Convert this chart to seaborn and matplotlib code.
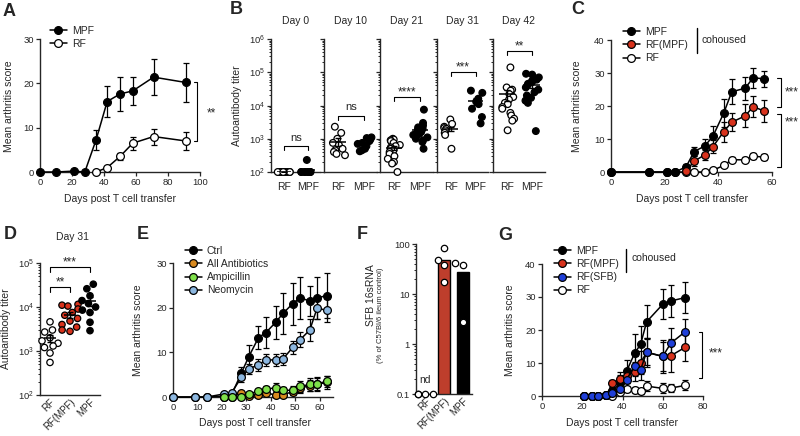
import warnings
import matplotlib
matplotlib.use("Agg")
import matplotlib.pyplot as plt
from matplotlib.lines import Line2D
from matplotlib.ticker import LogLocator, NullFormatter
import numpy as np
import pandas as pd
import seaborn as sns

warnings.filterwarnings("ignore")

# ---------------- data ----------------
# A: mean arthritis score, MPF vs RF
a_mpf_day = [0, 10, 21, 28, 35, 42, 50, 58, 71, 91]
a_mpf_score = [0, 0, 0.2, 0, 7.2, 15.9, 17.6, 18.3, 21.4, 20.2]
a_mpf_sem = [0, 0, 0, 0, 2.3, 3.5, 3.9, 3.2, 4.0, 4.3]
a_rf_day = [35, 42, 50, 58, 71, 91]
a_rf_score = [0, 1.0, 3.5, 6.5, 8.0, 7.0]
a_rf_sem = [0, 0.3, 0.7, 1.5, 1.8, 2.1]

# B: autoantibody titer over time
b_days = ["Day 0", "Day 10", "Day 21", "Day 31", "Day 42"]
b_rf = [
    [100] * 10,
    [2300, 1500, 1000, 750, 650, 500, 450, 400, 350, 320],
    [1000, 950, 900, 850, 750, 650, 600, 550, 500, 450, 400, 350, 300, 250, 200, 180, 100],
    [3800, 2800, 2300, 2100, 2000, 1800, 1500, 1300, 500],
    [140000, 35000, 30000, 28000, 22000, 18000, 15000, 12000, 11000, 9000, 8000,
     6000, 5000, 4000, 3500, 1800],
]
b_mpf = [
    [100] * 9 + [230],
    [1100, 1050, 950, 850, 750, 700, 600, 500, 450, 420],
    [7500, 3000, 2500, 2200, 2000, 1800, 1600, 1500, 1400, 1300, 1200, 1100, 1000,
     900, 800, 500],
    [28000, 24000, 16000, 13000, 11000, 8000, 4500, 2900],
    [90000, 85000, 70000, 60000, 55000, 50000, 45000, 40000, 35000, 30000, 25000,
     20000, 17000, 14000, 12000, 1700],
]
b_sig = ["ns", "ns", "****", "***", "**"]
b_sig_level = [600, 5000, 18000, 100000, 450000]

# C: cohousing
c_day = [0, 14, 21, 24, 28, 31, 35, 38, 42, 45, 50, 53, 57]
c_mpf = [0, 0, 0, 0, 1.6, 6.2, 7.9, 10.9, 17.8, 24.3, 25.4, 28.6, 28.2]
c_mpf_sem = [0, 0, 0, 0, 0.8, 1.5, 2.0, 3.0, 4.3, 3.8, 3.5, 3.0, 2.3]
c_rfmpf_day = [28, 31, 35, 38, 42, 45, 50, 53, 57]
c_rfmpf = [0.3, 3.3, 5.2, 7.7, 12.2, 15.1, 17.0, 19.8, 18.5]
c_rfmpf_sem = [0.3, 1.5, 1.5, 2.0, 3.0, 2.8, 3.5, 3.2, 3.2]
c_rf = [0, 0, 0, 0, 0, 0, 0, 0.5, 2.0, 3.7, 3.7, 4.8, 4.5]
c_rf_sem = [0, 0, 0, 0, 0, 0, 0, 0.3, 0.5, 0.8, 0.8, 1.0, 0.9]

# D: titer at day 31
d_groups = ["RF", "RF(MPF)", "MPF"]
d_rf = [4600, 3000, 2700, 2000, 1700, 1500, 1300, 1200, 900, 550]
d_rfmpf = [11500, 11000, 10500, 9000, 7500, 6500, 5500, 4800, 4000, 3500, 3000, 2800]
d_mpf = [33000, 26000, 18000, 14000, 12000, 10000, 8500, 7500, 4500, 2900]

# E: antibiotics
e_day = [0, 9, 14, 21, 24, 28, 31, 35, 38, 42, 45, 49, 52, 56, 59, 63]
e_ctrl = [0, 0, 0, 0.2, 0.5, 5.4, 9.0, 13.3, 14.4, 16.7, 18.7, 20.9, 22.2, 21.5, 22.2, 22.7]
e_ctrl_sem = [0, 0, 0, 0, 0, 1.3, 2.6, 2.6, 3.5, 3.7, 4.5, 4.7, 4.7, 3.3, 4.7, 5.1]
e_neo = [0, 0, 0, 0.7, 1.0, 4.4, 6.3, 7.2, 8.3, 8.3, 8.5, 11.1, 12.8, 15.0, 19.9, 19.4]
e_neo_sem = [0, 0, 0, 0, 0, 1.0, 1.2, 1.3, 1.3, 1.3, 1.3, 1.5, 1.7, 2.5, 2.5, 2.6]
e_abx_day = [21, 24, 28, 31, 35, 38, 42, 45, 49, 52, 56, 59, 63]
e_all = [0, 0.1, 0.9, 0.3, 0.5, 1.0, 0.4, 0.5, 1.2, 2.0, 2.5, 2.8, 3.3]
e_all_sem = [0, 0, 0.3, 0.3, 0.4, 0.5, 0.4, 0.4, 0.8, 1.0, 1.2, 1.4, 1.5]
e_amp = [0, 0, 0, 0.7, 1.3, 1.7, 2.1, 1.5, 1.5, 2.4, 2.8, 3.0, 3.5]
e_amp_sem = [0, 0, 0, 0.4, 0.6, 0.8, 1.0, 0.8, 1.0, 1.2, 1.4, 1.5, 1.3]

# F: SFB 16sRNA
f_groups = ["RF", "RF(MPF)", "MPF"]
f_rf = [0.1, 0.1, 0.1, 0.1]
f_rfmpf = [85, 48, 38, 17]
f_mpf = [42, 38, 2.8]

# G: cohousing incl. SFB
g_day = [21, 25, 28, 32, 35, 39, 42, 46, 49, 52, 60, 64, 71]
g_mpf = [0, 0, 0, 0.3, 1.5, 4.0, 7.5, 12.9, 15.7, 22.5, 27.8, 28.8, 29.8]
g_mpf_sem = [0, 0, 0, 0.3, 1.0, 2.5, 3.5, 5.8, 5.5, 5.0, 4.6, 4.8, 4.6]
g_rfmpf = [0, 0, 0, 0.3, 3.8, 5.3, 6.0, 7.4, 10.1, 13.2, 12.0, 12.2, 14.7]
g_rfmpf_sem = [0, 0, 0, 0.3, 1.2, 2.0, 2.0, 3.0, 3.5, 4.5, 5.0, 5.0, 4.2]
g_rfsfb = [0, 0, 0, 0.2, 1.0, 2.2, 5.0, 9.0, 8.0, 13.3, 12.0, 16.0, 19.4]
g_rfsfb_sem = [0, 0, 0, 0.2, 0.8, 1.2, 2.0, 3.0, 3.0, 4.0, 4.5, 4.5, 4.0]
g_rf = [0, 0, 0, 0.3, 0, 1.2, 2.0, 1.8, 1.5, 3.0, 2.3, 2.4, 3.2]
g_rf_sem = [0, 0, 0, 0.2, 0, 0.6, 0.8, 0.8, 0.8, 1.5, 1.5, 1.2, 1.5]

# ---------------- style ----------------
RED = "#d8321c"
ORANGE = "#d98a1f"
GREEN = "#7fe04a"
LBLUE = "#8cb7e0"
BLUE = "#1f3fd8"

sns.set_style("ticks")
plt.rcParams["font.family"] = ["Liberation Sans", "DejaVu Sans"]
plt.rcParams["axes.linewidth"] = 1.0
plt.rcParams["xtick.major.width"] = 0.9
plt.rcParams["ytick.major.width"] = 0.9
plt.rcParams["ytick.minor.width"] = 0.7
plt.rcParams["xtick.major.size"] = 3
plt.rcParams["ytick.major.size"] = 3
plt.rcParams["ytick.minor.size"] = 1.6

W, H = 800, 436
fig = plt.figure(figsize=(W / 100, H / 100), dpi=100)

TICK = 6.8
LAB = 7.5
STAR = 8.5


def rect(x0, y0, x1, y1):
    return [x0 / W, 1 - y1 / H, (x1 - x0) / W, (y1 - y0) / H]


def ftext(x, y, s, **kw):
    fig.text(x / W, 1 - y / H, s, **kw)


def style(ax):
    sns.despine(ax=ax)
    ax.tick_params(labelsize=TICK, pad=1.5)


def line_panel(ax, series):
    for day, score, sem, face in series:
        ax.errorbar(day, score, yerr=sem, fmt="none", ecolor="black", elinewidth=0.9,
                    capsize=2.2, capthick=0.9, zorder=2, clip_on=False)
        sns.lineplot(x=day, y=score, ax=ax, color="black", linewidth=1.1, marker="o",
                     markersize=5.6, markerfacecolor=face, markeredgecolor="black",
                     markeredgewidth=0.9, sort=False, clip_on=False, zorder=3)


def legend(ax, labels, faces, x, y):
    handles = [Line2D([0], [0], color="black", lw=1.1, marker="o", ms=5.6, mfc=f,
                      mec="black", mew=0.9) for f in faces]
    ax.legend(handles, labels, loc="upper left", bbox_to_anchor=(x / W, 1 - y / H),
              bbox_transform=fig.transFigure, frameon=False, fontsize=LAB,
              handlelength=1.6, handletextpad=0.5, labelspacing=0.3, borderpad=0,
              borderaxespad=0)


def vbracket(ax, x, y0, y1, dx, label, tx, ty):
    ax.plot([x - dx, x, x, x - dx], [y0, y0, y1, y1], color="black", lw=0.8, clip_on=False)
    ax.text(tx, ty, label, fontsize=STAR, ha="left", va="center", clip_on=False)


def hbracket(ax, x0, x1, y, fac, label):
    ax.plot([x0, x0, x1, x1], [y / fac, y, y, y / fac], color="black", lw=0.8, clip_on=False)
    off = 4 if label == "ns" else 1.0
    ax.annotate(label, ((x0 + x1) / 2, y), xytext=(0, off), textcoords="offset points",
                ha="center", va="baseline", fontsize=8 if label == "ns" else STAR,
                annotation_clip=False)


def mean_sem(ax, groups):
    for j, vals in enumerate(groups):
        m = np.mean(vals)
        s = np.std(vals, ddof=1) / np.sqrt(len(vals))
        ax.hlines(m, j - 0.3, j + 0.3, color="black", lw=1.1, zorder=6)
        ax.errorbar(j, m, yerr=s, fmt="none", ecolor="black", elinewidth=1.0,
                    capsize=2.2, capthick=1.0, zorder=6)


def log_ticks(ax, labels=True):
    ax.yaxis.set_minor_locator(LogLocator(base=10, subs=np.arange(2, 10)))
    ax.yaxis.set_minor_formatter(NullFormatter())
    if not labels:
        ax.tick_params(axis="y", labelleft=False)


def rotate_cats(ax):
    ax.tick_params(axis="x", length=0, labelsize=7)
    for t in ax.get_xticklabels():
        t.set_rotation(45)
        t.set_ha("right")
        t.set_rotation_mode("anchor")


# ---------------- panel A ----------------
axA = fig.add_axes(rect(40, 39, 200, 172))
line_panel(axA, [(a_mpf_day, a_mpf_score, a_mpf_sem, "black"),
                 (a_rf_day, a_rf_score, a_rf_sem, "white")])
axA.set_xlim(0, 100)
axA.set_ylim(0, 30)
axA.set_xticks([0, 20, 40, 60, 80, 100])
axA.set_yticks([0, 10, 20, 30])
style(axA)
legend(axA, ["MPF", "RF"], ["black", "white"], 50, 26)
vbracket(axA, 98, 20.2, 7.0, 2, "**", 104, 13.3)

# ---------------- panel B ----------------
np.random.seed(3)  # fixed horizontal jitter of the dots
b_x = [(271, 320), (324, 377), (380, 433), (437, 488), (493, 545)]
for i, (title, rf, mpf) in enumerate(zip(b_days, b_rf, b_mpf)):
    ax = fig.add_axes(rect(b_x[i][0], 39, b_x[i][1], 172))
    df = pd.DataFrame({"group": ["RF"] * len(rf) + ["MPF"] * len(mpf), "titer": rf + mpf})
    sns.stripplot(data=df, x="group", y="titer", hue="group", order=["RF", "MPF"],
                  palette={"RF": "white", "MPF": "black"}, edgecolor="black",
                  linewidth=0.9, size=4.8, jitter=0.3, log_scale=True, legend=False,
                  ax=ax, clip_on=False)
    mean_sem(ax, [rf, mpf])
    ax.set_ylim(100, 1e6)
    ax.set_xlim(-0.55, 1.5)
    ax.set_xlabel("")
    ax.set_ylabel("")
    style(ax)
    log_ticks(ax, labels=(i == 0))
    ax.tick_params(axis="x", length=0, labelsize=LAB, pad=7)
    hbracket(ax, 0, 1, b_sig_level[i], 1.32, b_sig[i])
    ftext((b_x[i][0] + b_x[i][1]) / 2, 21, title, fontsize=LAB, ha="center", va="center")

# ---------------- panel C ----------------
axC = fig.add_axes(rect(611, 40, 772, 172))
line_panel(axC, [(c_day, c_rf, c_rf_sem, "white"),
                 (c_day, c_mpf, c_mpf_sem, "black"),
                 (c_rfmpf_day, c_rfmpf, c_rfmpf_sem, RED)])
axC.set_xlim(0, 60)
axC.set_ylim(0, 40)
axC.set_xticks([0, 20, 40, 60])
axC.set_yticks([0, 10, 20, 30, 40])
style(axC)
legend(axC, ["MPF", "RF(MPF)", "RF"], ["black", RED, "white"], 623, 27)
fig.add_artist(Line2D([697 / W, 697 / W], [1 - 28 / H, 1 - 53 / H], color="black",
                      lw=1.0, transform=fig.transFigure))
ftext(702, 40, "cohoused", fontsize=LAB, ha="left", va="center")
vbracket(axC, 63.3, 28.5, 19.7, 1.5, "***", 64.8, 24.1)
vbracket(axC, 63.3, 17.6, 1.5, 1.5, "***", 64.8, 15.0)

# ---------------- panel D ----------------
axD = fig.add_axes(rect(40, 263, 100, 395))
dfD = pd.DataFrame({"group": ["RF"] * len(d_rf) + ["RF(MPF)"] * len(d_rfmpf)
                    + ["MPF"] * len(d_mpf), "titer": d_rf + d_rfmpf + d_mpf})
sns.swarmplot(data=dfD, x="group", y="titer", hue="group", order=d_groups,
              palette={"RF": "white", "RF(MPF)": RED, "MPF": "black"}, edgecolor="black",
              linewidth=0.9, size=4.6, log_scale=True, legend=False, ax=axD,
              clip_on=False, warn_thresh=1)
mean_sem(axD, [d_rf, d_rfmpf, d_mpf])
axD.set_ylim(100, 1e5)
axD.set_xlim(-0.5, 2.5)
axD.set_xlabel("")
axD.set_ylabel("")
style(axD)
log_ticks(axD)
rotate_cats(axD)
hbracket(axD, 0, 1, 28000, 1.3, "**")
hbracket(axD, 0, 2, 80000, 1.3, "***")
ftext(73, 237, "Day 31", fontsize=LAB, ha="center", va="center")

# ---------------- panel E ----------------
axE = fig.add_axes(rect(173, 263, 333, 397))
line_panel(axE, [(e_day, e_ctrl, e_ctrl_sem, "black"),
                 (e_abx_day, e_all, e_all_sem, ORANGE),
                 (e_day, e_neo, e_neo_sem, LBLUE),
                 (e_abx_day, e_amp, e_amp_sem, GREEN)])
axE.set_xlim(0, 65.5)
axE.set_ylim(0, 30)
axE.set_xticks([0, 10, 20, 30, 40, 50, 60])
axE.set_yticks([0, 10, 20, 30])
style(axE)
legend(axE, ["Ctrl", "All Antibiotics", "Ampicillin", "Neomycin"],
       ["black", ORANGE, GREEN, LBLUE], 185, 246)

# ---------------- panel F ----------------
axF = fig.add_axes(rect(416, 244, 472, 394))
dfF = pd.DataFrame({"group": ["RF"] * len(f_rf) + ["RF(MPF)"] * len(f_rfmpf)
                    + ["MPF"] * len(f_mpf), "value": f_rf + f_rfmpf + f_mpf})
sns.barplot(data=dfF, x="group", y="value", hue="group", order=f_groups,
            palette={"RF": "white", "RF(MPF)": "#d62c14", "MPF": "black"},
            errorbar=None, width=0.65, edgecolor="black", linewidth=1.0, legend=False,
            ax=axF)
axF.set_yscale("log")
sns.swarmplot(data=dfF, x="group", y="value", order=f_groups, color="white",
              edgecolor="black", linewidth=0.9, size=4.6, ax=axF, clip_on=False,
              warn_thresh=1, zorder=5)
axF.set_ylim(0.1, 100)
axF.set_xlim(-0.5, 2.5)
axF.set_yticks([0.1, 1, 10, 100], labels=["0.1", "1", "10", "100"])
axF.set_xlabel("")
axF.set_ylabel("")
style(axF)
log_ticks(axF)
rotate_cats(axF)
axF.text(0, 0.19, "nd", fontsize=LAB, ha="center", va="center")

# ---------------- panel G ----------------
axG = fig.add_axes(rect(542, 264, 703, 396))
line_panel(axG, [(g_day, g_rf, g_rf_sem, "white"),
                 (g_day, g_mpf, g_mpf_sem, "black"),
                 (g_day, g_rfmpf, g_rfmpf_sem, RED),
                 (g_day, g_rfsfb, g_rfsfb_sem, BLUE)])
axG.set_xlim(0, 80)
axG.set_ylim(0, 40)
axG.set_xticks([0, 20, 40, 60, 80])
axG.set_yticks([0, 10, 20, 30, 40])
style(axG)
legend(axG, ["MPF", "RF(MPF)", "RF(SFB)", "RF"], ["black", RED, BLUE, "white"], 554, 246)
fig.add_artist(Line2D([626 / W, 626 / W], [1 - 249 / H, 1 - 272 / H], color="black",
                      lw=1.0, transform=fig.transFigure))
ftext(632, 258, "cohoused", fontsize=LAB, ha="left", va="center")
vbracket(axG, 79.6, 19.4, 5.5, 1.5, "***", 83, 13.0)

# ---------------- labels ----------------
for x, y in [(9, 106), (577, 106), (138, 330), (510, 330)]:
    ftext(x, y, "Mean arthritis score", fontsize=LAB, rotation=90, ha="center", va="center")
for x, y in [(237, 106), (6, 329)]:
    ftext(x, y, "Autoantibody titer", fontsize=LAB, rotation=90, ha="center", va="center")
ftext(371, 295, "SFB 16sRNA", fontsize=LAB, rotation=90, ha="center", va="center")
ftext(380, 315, "(% of C57Bl/6 ileum control)", fontsize=5.5, rotation=90,
      ha="center", va="center")
for x, y in [(120, 199), (692, 199), (255, 423), (622, 423)]:
    ftext(x, y, "Days post T cell transfer", fontsize=LAB, ha="center", va="center")

for letter, x, y in [("A", 9, 12), ("B", 236, 9), ("C", 578, 9), ("D", 10, 234),
                     ("E", 143, 234), ("F", 362, 234), ("G", 505, 235)]:
    ftext(x, y, letter, fontsize=13, fontweight="bold", ha="center", va="center")

fig.savefig("out.png", dpi=100)
